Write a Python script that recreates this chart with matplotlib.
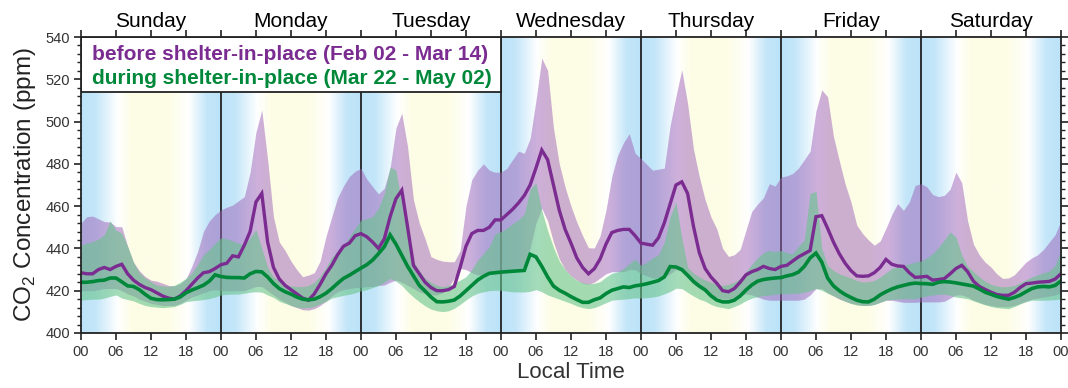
import numpy as np
import matplotlib
matplotlib.use('Agg')
import matplotlib.pyplot as plt
from matplotlib.colors import LinearSegmentedColormap
from matplotlib.patches import Rectangle
from matplotlib.ticker import MultipleLocator, FixedLocator, NullLocator

plt.rcParams['font.family'] = ['Liberation Sans', 'DejaVu Sans']

days = ['Sunday', 'Monday', 'Tuesday', 'Wednesday', 'Thursday', 'Friday', 'Saturday']
hours = np.arange(169)
xtick_labels = ['00', '06', '12', '18'] * 7 + ['00']
legend_before = 'before shelter-in-place (Feb 02 - Mar 14)'
legend_during = 'during shelter-in-place (Mar 22 - May 02)'

purple_mean = [
    428.5, 428, 428, 430, 431, 430, 431.5, 432.5, 428, 425, 423, 421.5, 420.5, 419, 417.5, 416.5, 416, 417.5, 420, 423, 426, 428.5, 429, 430.5,
    432.3, 433, 436.5, 436, 441.5, 448, 462, 466, 443, 431, 425.5, 422.5, 420.5, 418.5, 416.5, 415.5, 418.5, 423, 428, 432, 437, 441, 442.5, 446,
    447, 445.5, 443, 440, 444.5, 455, 463.5, 467.5, 450, 432, 428, 424, 421.5, 420, 420, 420.5, 422, 431, 441, 447, 448.5, 448.5, 450, 453.5,
    453.5, 456, 458.5, 461.5, 465, 470, 478, 486.5, 482, 470, 458, 449, 442.5, 435.5, 431, 428, 430.4, 435, 442, 447.5, 448.5, 449, 449, 446,
    442.5, 442, 441.5, 445, 452, 461, 470, 471.5, 466, 450.5, 438, 430.5, 426.5, 423.5, 420, 419.5, 421, 424, 427.5, 429, 430, 431.5, 430.5, 430,
    431.5, 432, 434, 436, 437.5, 439, 455, 455.5, 449.5, 443, 437.5, 433, 429.5, 427, 426.8, 427, 428.5, 431, 434.8, 432.5, 431.7, 431.5, 428.5, 426.3,
    426.5, 426.8, 425, 425.3, 425.7, 428, 430.5, 432, 429, 424.5, 422, 420.6, 419.3, 418.2, 417.8, 417.8, 419.2, 421.5, 423.3, 423.6, 424, 424.2, 424.4, 425.5, 428,
]
purple_upper = [
    452, 455, 455.3, 454, 452.7, 452.5, 450.3, 450.3, 441, 433.5, 429.5, 426.7, 425, 424.5, 423.5, 422.5, 422.3, 423.3, 425.5, 431.5, 438.5, 448, 453, 456,
    458.2, 459.5, 460.5, 462.5, 464.5, 476, 495, 505.5, 482, 455, 443, 439, 434, 430, 426.6, 427.4, 428.5, 434, 445.6, 455, 464, 469.5, 474, 476.5,
    477.9, 472.8, 469.2, 465.8, 468.5, 478, 497, 504, 488, 463, 452, 444.5, 436.1, 434.8, 434, 433.7, 433.7, 439, 460, 472.5, 477, 480, 477, 476,
    476.1, 477.8, 482, 486, 485, 492, 510, 530, 524.2, 497, 480, 469, 460, 452.5, 446, 440.3, 440.2, 446, 458, 474, 484, 490, 494.3, 485,
    482.5, 479.7, 477, 477.5, 478, 498, 512, 524.5, 508.5, 487, 474, 463, 454.9, 449.2, 440, 436.2, 437, 439.5, 448.6, 457.5, 461, 464, 470.6, 469.5,
    473.8, 474.3, 475.4, 478, 482, 486, 505, 515, 511.7, 493, 481.5, 470.5, 462, 451, 447, 444, 441.5, 443.5, 449.5, 456, 461.2, 458, 462, 469.8,
    470.6, 469.2, 465.5, 464.5, 465.1, 468, 476.1, 471, 453, 442, 437, 433.5, 431.2, 428, 425.8, 426, 427.5, 430.5, 433.5, 435.5, 437, 439.5, 443, 446.5, 453,
]
purple_lower = [
    420, 420, 420, 420.5, 421, 421, 421, 420, 418.5, 417.5, 416, 415, 414, 413.5, 413, 413, 413, 414, 415.5, 417, 418, 419, 420, 420.5,
    420, 420, 420, 420, 420, 421, 422, 422, 420, 418, 416, 414.5, 413, 412, 411, 410.8, 411.5, 413, 415, 417.5, 419.5, 420.5, 421, 421.5,
    421.5, 422, 422, 422.5, 422.7, 424, 425, 424, 422.5, 421, 419.5, 418.5, 418, 418, 419, 421.5, 426, 430.5, 430, 428.5, 427.5, 427.5, 428, 428,
    428, 428.5, 429, 430, 432, 440, 452, 459, 453, 443, 435, 430, 427, 425, 423.5, 423, 424, 426, 428, 429, 429, 429, 430, 430,
    428, 427, 426, 426, 426.5, 428, 430, 429, 426, 423, 421, 419.5, 418, 417, 416, 416, 416.5, 417.5, 418.5, 418, 417, 416, 415.5, 415.5,
    415.5, 415.5, 415.5, 415.5, 416, 418, 421, 421, 419, 417.5, 416, 415, 414, 413.5, 413, 413, 413.5, 414.5, 415.5, 415.5, 415, 414.5, 414.5, 414.5,
    414.7, 414.7, 414.7, 414.7, 415, 416.5, 418, 418, 417, 415.5, 414.5, 413.5, 413, 412.5, 412.5, 412.5, 413, 414, 415, 416, 416.5, 417, 417.5, 418, 419,
]
green_mean = [
    424, 424, 424.3, 424.8, 425, 426, 426, 424.2, 422.3, 422, 420.5, 418.3, 416.4, 415.8, 415.7, 415.8, 416, 417, 419, 420.3, 421.4, 422.6, 424.5, 427.5,
    426.7, 426.3, 426.2, 426.2, 426, 428, 429.1, 428.9, 426.5, 423.4, 421, 419.5, 418.4, 417, 416, 415.7, 416, 417.2, 418.8, 421, 423.5, 425.8, 427.3, 429,
    430.7, 432.3, 434.5, 437.5, 440.8, 446.4, 442, 436.8, 431.5, 427, 422.5, 419.8, 417, 414.8, 414.7, 415, 415.6, 417.5, 420, 422.5, 425, 426.8, 428.2, 428.5,
    428.8, 429, 429.2, 429.4, 429.6, 437.2, 436, 431.5, 426.5, 422.2, 420.2, 418.8, 417.2, 415.8, 414.5, 414.5, 415.7, 416.6, 418.6, 420.2, 421, 421.8, 421.5, 422.3,
    422.7, 423.3, 424, 424.8, 426.5, 431.4, 431.2, 430, 427.3, 424.4, 422.2, 420.4, 417.6, 415.6, 414.7, 414.7, 415.5, 417.5, 420.3, 422.7, 424.5, 425.3, 425.7, 426,
    426.2, 427, 427.6, 428.8, 431.5, 435.5, 437.8, 433.5, 426, 422.3, 420, 418.2, 416.8, 415.5, 414.8, 414.7, 416, 418, 419.5, 420.8, 421.8, 422.5, 423.2, 423.6,
    423.4, 423.3, 423, 424, 424.3, 424.1, 423.7, 423.2, 422.7, 422.2, 420.8, 419.3, 418.3, 417.3, 416.6, 416, 416.8, 417.9, 419.5, 421, 421.8, 422, 421.8, 422.5, 424.6,
]
green_upper = [
    441.6, 442.5, 443.2, 444.5, 446.5, 453, 448.7, 447.2, 441, 433.5, 428.5, 426, 424.3, 422.7, 422.3, 422, 422.5, 424, 425.9, 428.5, 432.5, 437, 439.5, 442.5,
    445, 444.5, 443.5, 442.5, 441.8, 445, 449, 440, 431, 426.5, 424.5, 423, 422.3, 422, 421.9, 422.5, 424, 427, 431, 436, 438.5, 441, 445.5, 449.5,
    453.4, 454, 455, 459, 466, 478.5, 477, 461, 445.6, 434, 429.5, 426, 424, 422.5, 421.9, 422.5, 423.5, 425, 426.6, 430, 434.5, 437.5, 440.8, 447,
    448, 449.5, 451.7, 453.5, 456.4, 468, 471, 458, 448.5, 440.5, 434, 430, 427, 424.9, 423.8, 423.3, 423.5, 424.3, 426.5, 428.2, 428.9, 430.5, 432.8, 435,
    432, 433.5, 435.5, 437, 443, 455, 462, 445, 431, 428.3, 426.5, 425, 424, 422.8, 422.5, 423, 424, 425.8, 429, 432.5, 435.5, 438, 439, 438.5,
    439, 438, 437.5, 441, 444, 466, 467, 440, 432, 429.5, 428, 427, 426, 424.8, 424.1, 424.3, 424.8, 426.5, 428.5, 430.5, 431.2, 432, 432.7, 433.5,
    434, 435.5, 437.5, 440.5, 444, 447.8, 445.4, 437, 431.5, 429, 426.5, 424.5, 423, 422.2, 421.8, 422, 422.5, 423.8, 425.2, 426.5, 427.5, 428.5, 429.3, 432, 439,
]
green_lower = [
    415.6, 415.8, 416, 416, 416.5, 417.3, 418, 416.5, 415.8, 415.2, 414, 413, 412.5, 412.2, 412, 412.2, 412.5, 413.5, 414.8, 415.2, 415.5, 415.8, 416.3, 417,
    418, 418.3, 418.4, 418.4, 418.8, 419.3, 419.5, 419.3, 418, 416.8, 415, 414, 413, 412.2, 411.8, 412, 412.5, 413.8, 415, 416.5, 417.2, 417.8, 418.3, 419,
    420, 420.5, 421.5, 422.5, 424, 425.8, 424.5, 422.5, 419.5, 417, 414.8, 412.8, 411.3, 410.5, 410.1, 410.5, 411.7, 413.5, 415.6, 417.5, 418.8, 419.5, 420, 420.2,
    420.2, 419.8, 419.5, 419.4, 419.4, 419.7, 420.5, 419.5, 418, 417, 416, 415, 414, 412.8, 412, 411.5, 412, 413.1, 414.3, 415.5, 415.8, 416, 416.3, 416.6,
    416.5, 416.7, 417, 417.5, 418.5, 419.6, 421.2, 421, 419.2, 417.5, 416, 415, 413.5, 412.5, 412, 411.5, 412.5, 413.7, 415.3, 416.5, 417.2, 417.6, 417.9, 418.3,
    418.6, 418.6, 418.7, 418.8, 419.2, 420, 421, 420.2, 418.8, 417.6, 416.3, 415, 414, 413.2, 413, 413, 413.5, 414.5, 415.5, 415.8, 416, 416.2, 416.2, 416.2,
    417, 417.5, 418, 418.3, 418.3, 417.8, 417, 416.6, 416.2, 415.2, 414.2, 413.3, 412.5, 412, 411.7, 411.5, 412.5, 413.7, 414.8, 415.5, 415.5, 415.5, 415.6, 415.8, 416,
]

PURPLE_LINE = '#7b2c91'
PURPLE_FILL = '#9d62b8'
GREEN_LINE = '#00883a'
GREEN_FILL = '#68c48c'
DARK = '#222222'

fig = plt.figure(figsize=(10.68, 3.88), dpi=100)
ax = fig.add_axes([0.0758, 0.1418, 0.9176, 0.7628])

# day/night background gradient
sky = LinearSegmentedColormap.from_list('sky', [
    (0.0, '#bce3f8'), (0.10, '#c4e6f9'), (0.26, '#ffffff'), (0.36, '#fdfde6'),
    (0.62, '#fdfde6'), (0.77, '#ffffff'), (0.90, '#c4e6f9'), (1.0, '#bce3f8')])
tgrid = np.linspace(0, 168, 168 * 8 + 1)
phase = (tgrid % 24) / 24.0
phase[-1] = 1.0
ax.imshow(phase[np.newaxis, :], cmap=sky, vmin=0, vmax=1, aspect='auto',
          extent=[0, 168, 400, 540], interpolation='bilinear', zorder=0)

for d in range(1, 7):
    ax.axvline(24 * d, color=DARK, lw=1.3, zorder=1)

ax.fill_between(hours, purple_lower, purple_upper, color=PURPLE_FILL, alpha=0.5, lw=0, zorder=2)
ax.fill_between(hours, green_lower, green_upper, color=GREEN_FILL, alpha=0.6, lw=0, zorder=3)
ax.plot(hours, purple_mean, color=PURPLE_LINE, lw=2.4, zorder=4, solid_joinstyle='miter')
ax.plot(hours, green_mean, color=GREEN_LINE, lw=2.6, zorder=5, solid_joinstyle='miter')

ax.set_xlim(0, 168)
ax.set_ylim(400, 540)

# legend box
ax.add_patch(Rectangle((0, 514), 72, 26, facecolor='white', edgecolor=DARK, lw=1.3, zorder=6))
ax.text(1.9, 531.6, legend_before, color=PURPLE_LINE, fontsize=15, fontweight='bold',
        ha='left', va='center', zorder=7)
ax.text(1.9, 520.6, legend_during, color=GREEN_LINE, fontsize=15, fontweight='bold',
        ha='left', va='center', zorder=7)

# ticks
ax.xaxis.set_major_locator(FixedLocator(np.arange(0, 169, 6)))
ax.set_xticklabels(xtick_labels)
ax.xaxis.set_minor_locator(NullLocator())
ax.yaxis.set_major_locator(MultipleLocator(20))
ax.yaxis.set_minor_locator(MultipleLocator(4))
ax.tick_params(axis='x', which='major', top=True, direction='out', length=5, width=1.2,
               color=DARK, labelsize=10.5, labelcolor='#333333', pad=4)
ax.tick_params(axis='y', which='major', right=True, direction='out', length=5, width=1.2,
               color=DARK, labelsize=10.5, labelcolor='#333333', pad=3)
ax.tick_params(axis='y', which='minor', right=True, direction='out', length=3, width=1.0, color=DARK)
for s in ax.spines.values():
    s.set_linewidth(1.3)
    s.set_color(DARK)
    s.set_zorder(8)

for d, name in enumerate(days):
    ax.annotate(name, xy=(12 + 24 * d, 1), xycoords=('data', 'axes fraction'),
                xytext=(0, 7), textcoords='offset points', ha='center', va='baseline',
                fontsize=15, color='black')

ax.set_xlabel('Local Time', fontsize=16, color='#333333', labelpad=2)
ax.set_ylabel(r'CO$_{\mathregular{2}}$ Concentration (ppm)', fontsize=17.5, color='#222222', labelpad=5)

fig.savefig('out.png', dpi=100)
